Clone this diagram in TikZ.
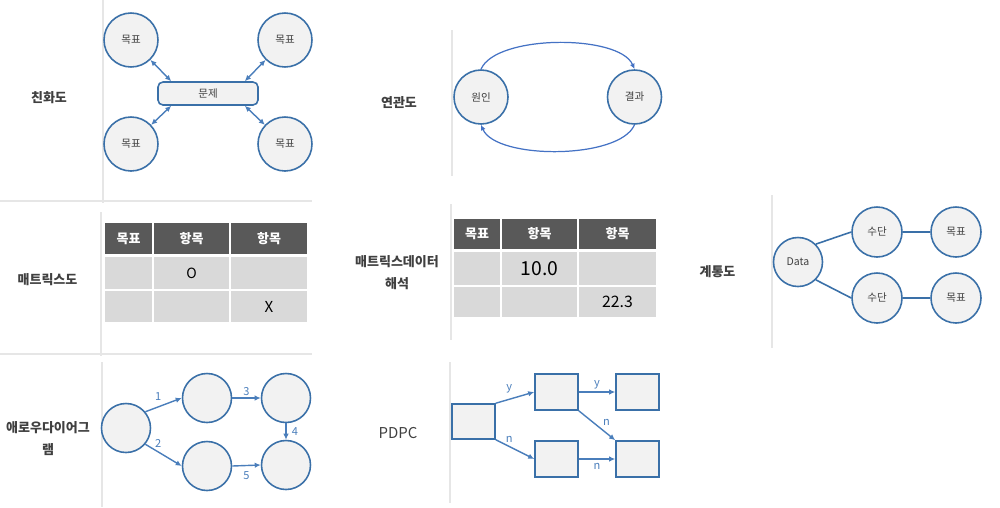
\documentclass[tikz,border=0pt]{standalone}
\usepackage{fontspec}
\setmainfont{Noto Sans CJK KR}
\usepackage{xcolor}
\usepackage{tikz}
\usetikzlibrary{trees}
\usetikzlibrary{shapes,arrows.meta,positioning}

\definecolor{lineblue}{HTML}{3A70A8}
\definecolor{arrowblue}{HTML}{4A7EBB}
\definecolor{arcblue}{HTML}{4472C4}
\definecolor{nodefill}{HTML}{F2F2F2}
\definecolor{headgray}{HTML}{595959}
\definecolor{cellgray}{HTML}{D9D9D9}
\definecolor{textgray}{HTML}{404040}
\definecolor{rulegray}{HTML}{E6E6E6}

\begin{document}
\begin{tikzpicture}[%
      x=0.2mm, y=-0.2mm,
      title/.style={font=\fontsize{7.4}{12.6}\selectfont\bfseries, text=textgray, align=center},
      goal/.style={circle, draw=lineblue, fill=nodefill, line width=0.9pt,
        minimum size=10.8mm, inner sep=0pt, font=\fontsize{6}{7}\selectfont, text=textgray},
      event/.style={goal, minimum size=9.8mm},
      pbox/.style={rectangle, draw=lineblue, fill=nodefill, line width=0.9pt,
        minimum width=8.6mm, minimum height=7.2mm, inner sep=0pt},
      head/.style={rectangle, fill=headgray, draw=white, line width=1pt, inner sep=0pt,
        minimum height=6.4mm, text=white, font=\fontsize{7.4}{8}\selectfont\bfseries},
      cell/.style={rectangle, fill=cellgray, draw=white, line width=1pt, inner sep=0pt,
        text=black},
      rule/.style={draw=rulegray, line width=0.3mm},
      arr/.style={draw=arrowblue, line width=0.8pt, -{Latex[length=1.2mm,width=1.1mm]}},
      dbl/.style={arr, {Latex[length=1.2mm,width=1.1mm]}-{Latex[length=1.2mm,width=1.1mm]}},
      arc/.style={draw=arcblue, line width=0.7pt, -{Latex[length=1.1mm,width=1mm]}},
      tag/.style={text=arrowblue, font=\fontsize{6.3}{7}\selectfont, inner sep=1pt},
      grow via three points={one child at (79,0) and
      two children at (79,-30) and (79,36)},
      child anchor=west,
      edge from parent/.style={draw=lineblue, line width=0.9pt}]
      \useasboundingbox (0,0) rectangle (1000,507);

      % separators
      \draw[rule] (0,201) -- (312,201);
      \draw[rule] (0,354) -- (312,354);
      \draw[rule] (103,0) -- (103,203);
      \draw[rule] (101,212) -- (101,356);
      \draw[rule] (102,362) -- (102,507);
      \draw[rule] (452,30) -- (452,176);
      \draw[rule] (451,204) -- (451,340);
      \draw[rule] (450,362) -- (450,503);
      \draw[rule] (772,195) -- (772,348);

      % affinity
      \node[title] (affinity) at (49,98) {친화도};
      \node[rectangle, rounded corners=1mm, draw=lineblue, fill=nodefill, line width=0.9pt,
        minimum width=20mm, minimum height=4.6mm, font=\fontsize{6}{7}\selectfont,
        text=textgray] (problem) at (208,93.5) {문제};
      \node[goal] (goal1) at (131,40) {목표};
      \node[goal] (goal2) at (285,40) {목표};
      \node[goal] (goal3) at (131,144) {목표};
      \node[goal] (goal4) at (285,144) {목표};
      \draw[dbl] (goal1) -- ([xshift=2.8mm]problem.north west);
      \draw[dbl] (goal3) -- ([xshift=2.8mm]problem.south west);
      \draw[dbl] (goal2) -- ([xshift=-2.8mm]problem.north east);
      \draw[dbl] (goal4) -- ([xshift=-2.8mm]problem.south east);

      % relation
      \node[title] (relation) at (399,103) {연관도};
      \node[goal] (cause) at (481,97) {원인};
      \node[goal] (effect) at (634.5,97) {결과};
      \draw[arc] (cause.north) .. controls +(15,-35) and +(-15,-35) .. (effect.north);
      \draw[arc] (effect.south) .. controls +(-15,35) and +(15,35) .. (cause.south);

      % matrix
      \node[title] (matrix) at (47.5,280) {매트릭스도};
      \node[head, minimum width=9.8mm] (mh1) at (128.5,238.5) {목표};
      \node[head, minimum width=15.4mm] (mh2) at (191.5,238.5) {항목};
      \node[head, minimum width=15.6mm] (mh3) at (269,238.5) {항목};
      \node[cell, minimum width=9.8mm, minimum height=6.8mm] (ma1) at (128.5,273) {};
      \node[cell, minimum width=15.4mm, minimum height=6.8mm,
        font=\fontsize{8}{9}\selectfont] (ma2) at (191.5,273) {O};
      \node[cell, minimum width=15.6mm, minimum height=6.8mm] (ma3) at (269,273) {};
      \node[cell, minimum width=9.8mm, minimum height=6.6mm] (mb1) at (128.5,306.5) {};
      \node[cell, minimum width=15.4mm, minimum height=6.6mm] (mb2) at (191.5,306.5) {};
      \node[cell, minimum width=15.6mm, minimum height=6.6mm,
        font=\fontsize{8.6}{9}\selectfont] (mb3) at (269,306.5) {X};

      % matrix data
      \node[title] (matrixdata) at (397,273) {매트릭스데이터\\해석};
      \node[head, minimum width=9.6mm] (dh1) at (477,234) {목표};
      \node[head, minimum width=15.4mm] (dh2) at (539.5,234) {항목};
      \node[head, minimum width=15.8mm] (dh3) at (617.5,234) {항목};
      \node[cell, minimum width=9.6mm, minimum height=7mm] (da1) at (477,268.5) {};
      \node[cell, minimum width=15.4mm, minimum height=7mm,
        font=\fontsize{11}{12}\selectfont] (da2) at (539.5,268.5) {10.0};
      \node[cell, minimum width=15.8mm, minimum height=7mm] (da3) at (617.5,268.5) {};
      \node[cell, minimum width=9.6mm, minimum height=6.4mm] (db1) at (477,302) {};
      \node[cell, minimum width=15.4mm, minimum height=6.4mm] (db2) at (539.5,302) {};
      \node[cell, minimum width=15.8mm, minimum height=6.4mm,
        font=\fontsize{9}{10}\selectfont] (db3) at (617.5,302) {22.3};

      % system
      \node[title] (system) at (717.5,272) {계통도};
      \node[goal, minimum size=9.8mm] (data) at (798,262) {Data}
        child[parent anchor=45] { node[goal, minimum size=10mm] (means1) {수단}
          child[parent anchor=east] { node[goal, minimum size=10mm] (target1) {목표}}}
        child[parent anchor=-45] { node[goal, minimum size=10mm] (means2) {수단}
          child[parent anchor=east] { node[goal, minimum size=10mm] (target2) {목표}}};

      % arrow diagram
      \node[title] (arrowdia) at (48,438.5) {애로우다이어그\\램};
      \node[event] (ev0) at (126,428) {};
      \node[event] (ev1) at (207,398) {};
      \node[event] (ev2) at (207,466) {};
      \node[event] (ev3) at (286,398) {};
      \node[event] (ev4) at (286,465) {};
      \draw[arr] (ev0.40) -- node[tag, above=2pt, pos=.35] {1} (ev1.west);
      \draw[arr] (ev0.-40) -- node[tag, above=1pt, pos=.35] {2} (ev2.west);
      \draw[arr] (ev1.east) -- node[tag, above] {3} (ev3.west);
      \draw[arr] (ev3.south) -- node[tag, right=2pt] {4} (ev4.north);
      \draw[arr] (ev2.east) -- node[tag, below=2pt] {5} (ev4.west);

      % pdpc
      \node[font=\fontsize{8.5}{10}\selectfont, text=textgray] (pdpc) at (398,433.5) {PDPC};
      \node[pbox, minimum height=7mm] (pd0) at (473.5,421.5) {};
      \node[pbox] (pd1) at (556.5,392) {};
      \node[pbox] (pd2) at (556.5,459) {};
      \node[pbox] (pd3) at (637.5,392) {};
      \node[pbox] (pd4) at (637.5,459) {};
      \draw[arr] (pd0.north east) -- node[tag, above=2pt, pos=.35] {y} (pd1.west);
      \draw[arr] (pd0.south east) -- node[tag, above=1pt, pos=.35] {n} (pd2.west);
      \draw[arr] (pd1.east) -- node[tag, above] {y} (pd3.west);
      \draw[arr] (pd1.south east) -- node[tag, above right, pos=.6] {n} (pd4.north west);
      \draw[arr] (pd2.east) -- node[tag, below=1pt] {n} (pd4.west);
    \end{tikzpicture}
\end{document}
